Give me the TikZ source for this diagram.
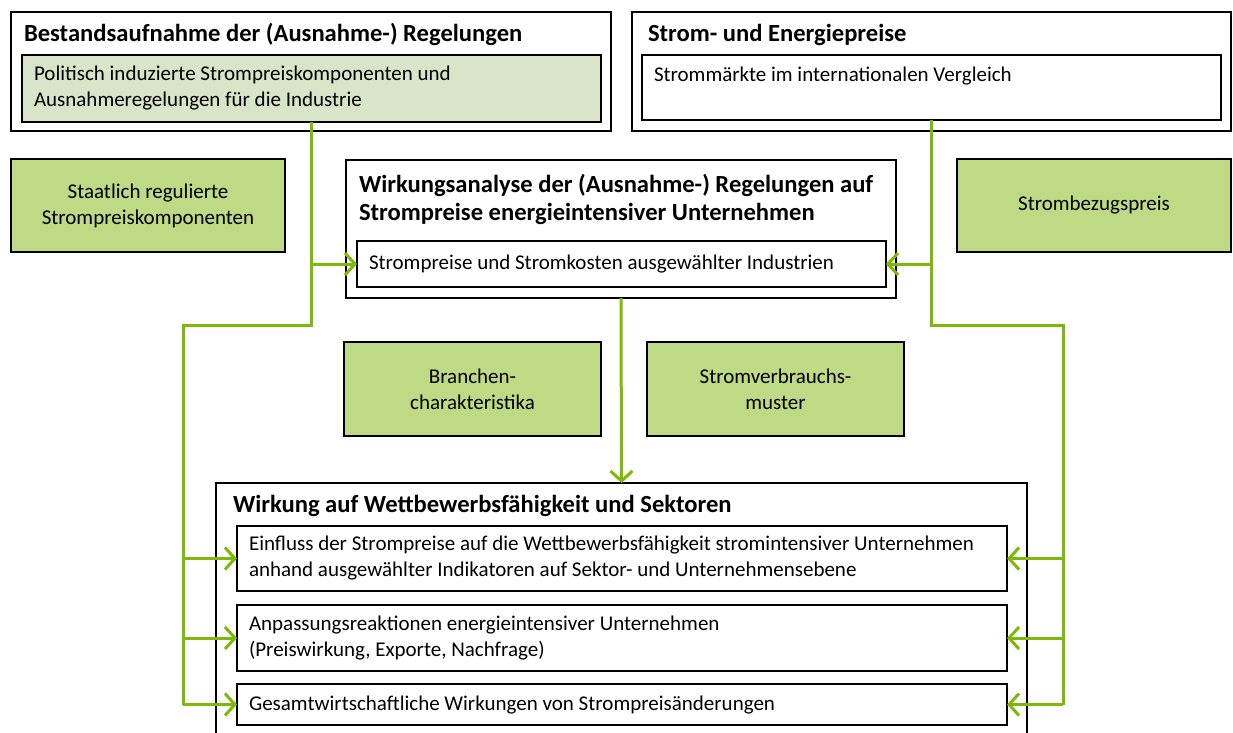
\documentclass[tikz,border=0pt]{standalone}
\usepackage{fontspec}
\setmainfont{Carlito}
\usetikzlibrary{arrows.meta}
\definecolor{lgreen}{HTML}{7CBA05}
\definecolor{boxgreen}{HTML}{BEDA84}
\definecolor{palegreen}{HTML}{D8E5C8}
\begin{document}
\begin{tikzpicture}[x=1pt,y=-1pt,
  every node/.style={outer sep=0pt, font=\fontsize{21}{26}\selectfont},
  obox/.style={draw, line width=2.4pt, anchor=north west, inner sep=0pt},
  ibox/.style={draw, line width=2.4pt, anchor=north west, inner xsep=12pt, inner ysep=0pt, align=flush left},
  gbox/.style={draw, line width=2.4pt, fill=boxgreen, anchor=north west, align=flush center},
  ttl/.style={anchor=base west, inner sep=0pt, font=\fontsize{24.6}{28}\selectfont\bfseries},
  txt/.style={anchor=base west, inner sep=0pt},
  gline/.style={draw=lgreen, line width=3pt},
  garr/.style={gline, -{Straight Barb[length=10pt,width=22pt]}}]
\clip (0,0) rectangle (1233,732);
\fill[white] (0,0) rectangle (1233,732);

% top left
\node[obox, minimum width=600pt, minimum height=119pt] (A) at (11,12) {};
\node[ttl] (At) at (24,41) {Bestandsaufnahme der (Ausnahme-) Regelungen};
\node[ibox, fill=palegreen, minimum width=579pt, minimum height=67pt, text width=555pt] (Ai) at (22,55)
  {Politisch induzierte Strompreiskomponenten und\\Ausnahmeregelungen für die Industrie};

% top right
\node[obox, minimum width=599pt, minimum height=119pt] (B) at (632,12) {};
\node[ttl] (Bt) at (648,41) {Strom- und Energiepreise};
\node[obox, minimum width=579pt, minimum height=65pt] (Bi) at (642,55) {};
\node[txt] (Bx) at (654,81) {Strommärkte im internationalen Vergleich};

% side green boxes
\node[gbox, minimum width=274pt, minimum height=93pt] (G1) at (11,159) {Staatlich regulierte\\Strompreiskomponenten};
\node[gbox, minimum width=274pt, minimum height=93pt] (G2) at (957,159) {Strombezugspreis};

% middle
\node[obox, minimum width=550pt, minimum height=138pt] (C) at (346,160) {};
\node[ttl] (Ct1) at (359,192) {Wirkungsanalyse der (Ausnahme-) Regelungen auf};
\node[ttl] (Ct2) at (359,220) {Strompreise energieintensiver Unternehmen};
\node[ibox, minimum width=529pt, minimum height=46pt, text width=505pt] (Ci) at (357,241)
  {Strompreise und Stromkosten ausgewählter Industrien};

\node[gbox, minimum width=257pt, minimum height=94pt] (G3) at (344,342) {Branchen-\\charakteristika};
\node[gbox, minimum width=257pt, minimum height=94pt] (G4) at (647,342) {Stromverbrauchs-\\muster};

% bottom
\node[obox, minimum width=811pt, minimum height=260pt] (D) at (216,483) {};
\node[ttl] (Dt) at (233,512) {Wirkung auf Wettbewerbsfähigkeit und Sektoren};
\node[ibox, minimum width=770pt, minimum height=65pt, text width=746pt] (I1) at (237,526)
  {Einfluss der Strompreise auf die Wettbewerbsfähigkeit stromintensiver Unternehmen\\anhand ausgewählter Indikatoren auf Sektor- und Unternehmensebene};
\node[ibox, minimum width=770pt, minimum height=66pt, text width=746pt] (I2) at (237,605)
  {Anpassungsreaktionen energieintensiver Unternehmen\\(Preiswirkung, Exporte, Nachfrage)};
\node[ibox, minimum width=770pt, minimum height=41pt, text width=746pt] (I3) at (237,684)
  {Gesamtwirtschaftliche Wirkungen von Strompreisänderungen};

% connectors
\coordinate (la) at (183,325);
\coordinate (ra) at (1063,325);
\draw[gline] (Ai.south) |- (la) -- (la |- I3.west);
\draw[garr] (Ai.south |- Ci.west) -- (Ci.west);
\draw[garr] (la |- I1.west) -- (I1.west);
\draw[garr] (la |- I2.west) -- (I2.west);
\draw[garr] (la |- I3.west) -- (I3.west);

\draw[gline] (Bi.south) |- (ra) -- (ra |- I3.east);
\draw[garr] (Bi.south |- Ci.east) -- (Ci.east);
\draw[garr] (ra |- I1.east) -- (I1.east);
\draw[garr] (ra |- I2.east) -- (I2.east);
\draw[garr] (ra |- I3.east) -- (I3.east);

\draw[garr] (C.south) -- (D.north);
\end{tikzpicture}
\end{document}
